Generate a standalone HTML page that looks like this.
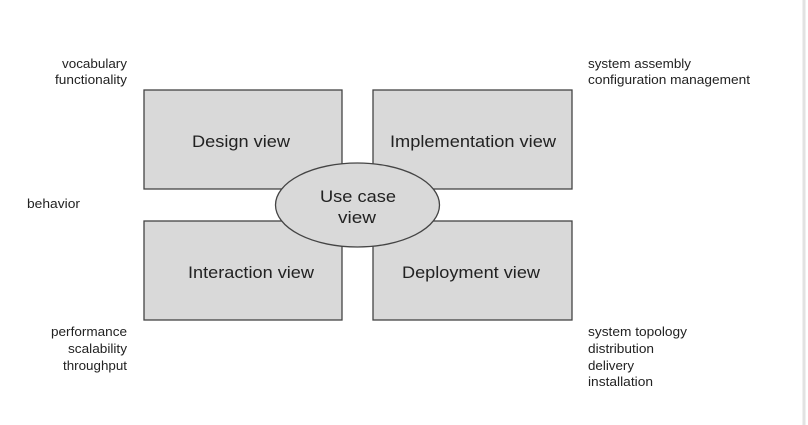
<!DOCTYPE html>
<html><head><meta charset="utf-8"><style>
html,body{margin:0;padding:0;background:#fff;width:808px;height:425px;overflow:hidden}
svg{display:block}
text{font-family:"Liberation Sans",Arial,sans-serif;fill:#222}
</style></head><body>
<svg width="808" height="425" viewBox="0 0 808 425">
<line x1="804" y1="0" x2="804" y2="425" stroke="#e2e2e2" stroke-width="3"/>
<g fill="#d9d9d9" stroke="#444" stroke-width="1.3">
<rect x="144" y="90" width="198" height="99"/>
<rect x="373" y="90" width="199" height="99"/>
<rect x="144" y="221" width="198" height="99"/>
<rect x="373" y="221" width="199" height="99"/>
<ellipse cx="357.5" cy="205" rx="82" ry="42"/>
</g>
<g font-size="17" lengthAdjust="spacingAndGlyphs">
<text x="192" y="147" textLength="98" lengthAdjust="spacingAndGlyphs">Design view</text>
<text x="390" y="147" textLength="166" lengthAdjust="spacingAndGlyphs">Implementation view</text>
<text x="188" y="278" textLength="126" lengthAdjust="spacingAndGlyphs">Interaction view</text>
<text x="402" y="278" textLength="138" lengthAdjust="spacingAndGlyphs">Deployment view</text>
<text x="320" y="202" textLength="76" lengthAdjust="spacingAndGlyphs">Use case</text>
<text x="338" y="223" textLength="38" lengthAdjust="spacingAndGlyphs">view</text>
</g>
<g font-size="13">
<text x="62" y="68" textLength="65" lengthAdjust="spacingAndGlyphs">vocabulary</text>
<text x="55" y="84" textLength="72" lengthAdjust="spacingAndGlyphs">functionality</text>
<text x="51" y="336" textLength="76" lengthAdjust="spacingAndGlyphs">performance</text>
<text x="68" y="353" textLength="59" lengthAdjust="spacingAndGlyphs">scalability</text>
<text x="63" y="370" textLength="64" lengthAdjust="spacingAndGlyphs">throughput</text>
<text x="27" y="208" textLength="53" lengthAdjust="spacingAndGlyphs">behavior</text>
<text x="588" y="68" textLength="103" lengthAdjust="spacingAndGlyphs">system assembly</text>
<text x="588" y="84" textLength="162" lengthAdjust="spacingAndGlyphs">configuration management</text>
<text x="588" y="336" textLength="99" lengthAdjust="spacingAndGlyphs">system topology</text>
<text x="588" y="353" textLength="66" lengthAdjust="spacingAndGlyphs">distribution</text>
<text x="588" y="370" textLength="46" lengthAdjust="spacingAndGlyphs">delivery</text>
<text x="588" y="386" textLength="65" lengthAdjust="spacingAndGlyphs">installation</text>
</g>
</svg>
</body></html>
